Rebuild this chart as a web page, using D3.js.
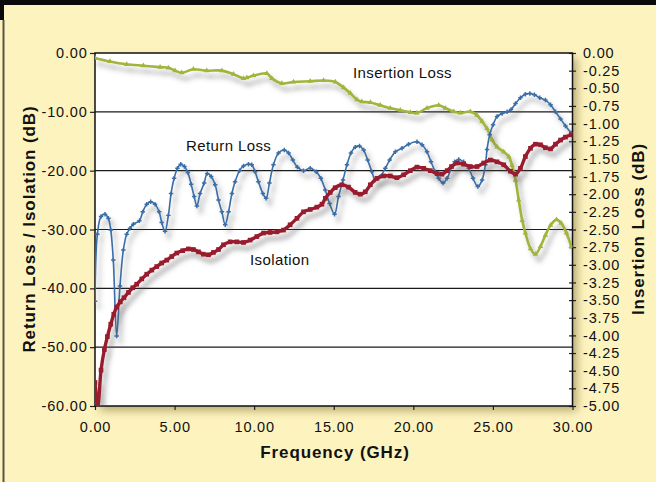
<!DOCTYPE html>
<html>
<head>
<meta charset="utf-8">
<script src="https://cdn.jsdelivr.net/npm/d3@7"></script>
<style>
  body { margin: 0; background: #fdf3bf; }
  text { font-family: "Liberation Sans", Arial, Helvetica, sans-serif; fill: #111; }
</style>
</head>
<body>
<div id="chart"></div>
<script>
// frequency ticks (GHz) and both dB scales
var xTicks = [0, 5, 10, 15, 20, 25, 30];
var yTicks = [0, -10, -20, -30, -40, -50, -60];
var y2Ticks = [0, -0.25, -0.5, -0.75, -1, -1.25, -1.5, -1.75, -2, -2.25, -2.5,
  -2.75, -3, -3.25, -3.5, -3.75, -4, -4.25, -4.5, -4.75, -5];

// [GHz, dB]
var returnLoss = [
  [0, -42.2], [0.15, -30.8], [0.38, -27.8], [0.63, -27.4], [0.84, -28.1], [0.99, -30.1],
  [1.15, -35.2], [1.36, -48.1], [1.57, -39.6], [1.78, -33.5], [1.99, -30.8], [2.2, -29.8],
  [2.41, -29.1], [2.79, -28.5], [3.0, -27.0], [3.25, -25.7], [3.5, -25.3], [3.77, -25.7],
  [4.03, -27.0], [4.19, -28.8], [4.4, -30.3], [4.61, -27.6], [4.78, -23.9], [4.97, -21.3],
  [5.18, -19.6], [5.39, -18.9], [5.62, -19.3], [5.83, -20.3], [6.04, -22.3], [6.23, -24.4],
  [6.4, -26.0], [6.6, -23.9], [6.86, -22.1], [7.05, -20.5], [7.3, -21.0], [7.55, -22.4],
  [7.76, -25.0], [7.97, -27.0], [8.18, -29.2], [8.39, -27.0], [8.6, -23.9], [8.8, -21.9],
  [9.08, -20.0], [9.33, -19.2], [9.64, -18.9], [9.85, -19.0], [10.06, -20.2], [10.27, -21.9],
  [10.55, -23.9], [10.75, -24.7], [10.96, -22.1], [11.21, -19.0], [11.53, -17.0], [11.89, -16.5],
  [12.16, -17.0], [12.43, -18.2], [12.72, -19.4], [13.1, -20.0], [13.52, -19.6], [13.9, -20.2],
  [14.19, -21.3], [14.47, -23.3], [14.74, -25.6], [15.05, -27.4], [15.3, -24.4], [15.58, -21.6],
  [15.83, -19.0], [16.08, -17.0], [16.35, -16.0], [16.62, -15.8], [16.88, -16.5], [17.13, -18.2],
  [17.4, -20.2], [17.61, -21.6], [17.92, -21.0], [18.24, -19.6], [18.51, -18.2], [18.87, -16.8],
  [19.29, -16.2], [19.7, -15.5], [20.23, -15.1], [20.55, -15.6], [20.86, -16.8], [21.11, -18.5],
  [21.38, -20.2], [21.59, -21.3], [21.87, -22.1], [22.12, -21.3], [22.43, -19.3], [22.6, -18.5],
  [22.85, -18.1], [23.16, -18.5], [23.48, -19.6], [23.75, -21.3], [24.05, -22.7], [24.32, -21.6],
  [24.53, -19.0], [24.63, -16.4], [24.8, -13.9], [25.01, -12.2], [25.26, -10.8], [25.58, -10.3],
  [25.89, -10.0], [26.14, -9.6], [26.42, -8.6], [26.73, -7.6], [27.04, -7.0], [27.32, -6.9],
  [27.61, -7.1], [27.94, -7.6], [28.3, -8.0], [28.62, -8.8], [28.93, -10.0], [29.25, -11.2],
  [29.56, -12.4], [29.92, -13.6]
];

var isolation = [
  [0, -56.0], [0.17, -60.2], [0.38, -53.9], [0.59, -50.4], [0.78, -48.2], [0.99, -46.1],
  [1.18, -44.4], [1.36, -43.2], [1.59, -42.3], [1.82, -41.6], [2.1, -40.7], [2.37, -39.9],
  [2.62, -39.3], [2.94, -38.4], [3.25, -37.6], [3.57, -36.9], [3.88, -36.3], [4.19, -35.7],
  [4.51, -35.2], [4.82, -34.6], [5.14, -34.0], [5.51, -33.6], [5.87, -33.3], [6.18, -33.4],
  [6.5, -33.8], [6.81, -34.2], [7.13, -34.3], [7.44, -33.9], [7.76, -33.4], [8.07, -32.6],
  [8.49, -32.1], [8.91, -32.1], [9.33, -32.2], [9.75, -31.8], [10.17, -31.2], [10.59, -30.6],
  [11.0, -30.5], [11.43, -30.4], [11.84, -30.1], [12.26, -29.2], [12.69, -28.1], [13.1, -27.0],
  [13.52, -26.6], [13.94, -26.2], [14.26, -25.7], [14.47, -24.7], [14.78, -23.7], [15.09, -22.9],
  [15.51, -22.4], [15.93, -22.8], [16.35, -23.7], [16.67, -24.0], [16.98, -23.6], [17.3, -22.4],
  [17.72, -21.3], [18.13, -20.9], [18.55, -20.9], [18.97, -21.2], [19.39, -20.7], [19.81, -20.0],
  [20.23, -19.4], [20.65, -19.6], [21.07, -20.0], [21.49, -20.5], [21.8, -20.6], [22.12, -20.0],
  [22.4, -19.3], [22.75, -18.7], [23.16, -18.9], [23.58, -19.3], [24.0, -19.3], [24.42, -18.7],
  [24.84, -18.2], [25.26, -18.5], [25.68, -19.0], [26.1, -20.1], [26.42, -20.6], [26.73, -19.6],
  [27.04, -17.6], [27.36, -16.2], [27.67, -15.5], [27.99, -15.6], [28.3, -16.1], [28.62, -16.3],
  [28.93, -15.5], [29.25, -14.8], [29.56, -14.3], [29.92, -13.9]
];

// right axis
var insertionLoss = [
  [0, -0.07], [0.94, -0.12], [1.99, -0.16], [3.04, -0.18], [4.09, -0.2], [4.61, -0.21],
  [5.03, -0.25], [5.45, -0.28], [6.18, -0.23], [7.02, -0.25], [7.97, -0.25], [8.7, -0.3],
  [9.33, -0.36], [9.54, -0.35], [9.96, -0.32], [10.8, -0.29], [11.11, -0.36], [11.74, -0.43],
  [12.47, -0.41], [13.52, -0.4], [14.36, -0.39], [15.1, -0.41], [15.62, -0.49], [16.04, -0.57],
  [16.46, -0.66], [16.77, -0.69], [17.3, -0.7], [17.92, -0.74], [18.55, -0.78], [19.18, -0.81],
  [19.81, -0.84], [20.23, -0.85], [20.86, -0.78], [21.59, -0.74], [22.01, -0.78], [22.54, -0.83],
  [22.96, -0.85], [23.58, -0.83], [24.0, -0.88], [24.32, -0.97], [24.63, -1.07], [24.95, -1.23],
  [25.26, -1.33], [25.68, -1.4], [26.0, -1.47], [26.2, -1.59], [26.42, -1.8], [26.62, -2.08],
  [26.84, -2.37], [27.04, -2.55], [27.36, -2.77], [27.67, -2.85], [27.99, -2.74], [28.3, -2.58],
  [28.62, -2.44], [28.99, -2.36], [29.29, -2.41], [29.62, -2.55], [29.92, -2.74]
];

var W = 656, H = 482;
var plotLeft = 95, plotRight = 572.5, plotTop = 53, plotBottom = 406;

var svg = d3.select("#chart")
  .append("svg")
  .attr("width", W)
  .attr("height", H);

var defs = svg.append("defs");

defs.append("filter")
    .attr("id", "boxShadow")
    .attr("x", "-10%").attr("y", "-10%")
    .attr("width", "130%").attr("height", "130%")
  .append("feDropShadow")
    .attr("dx", 5).attr("dy", 5)
    .attr("stdDeviation", 4)
    .attr("flood-color", "#6b5a20")
    .attr("flood-opacity", 0.45);

defs.append("filter")
    .attr("id", "lineShadow")
    .attr("x", "-10%").attr("y", "-10%")
    .attr("width", "130%").attr("height", "130%")
  .append("feDropShadow")
    .attr("dx", 4).attr("dy", 6)
    .attr("stdDeviation", 2.5)
    .attr("flood-color", "#555")
    .attr("flood-opacity", 0.45);

defs.append("clipPath")
    .attr("id", "plotClip")
  .append("rect")
    .attr("x", plotLeft)
    .attr("y", plotTop)
    .attr("width", plotRight - plotLeft)
    .attr("height", plotBottom - plotTop);

// page frame
svg.append("rect")
  .attr("width", W).attr("height", H)
  .attr("fill", "#fdf3bf");
svg.append("rect")
  .attr("width", W).attr("height", 5)
  .attr("fill", "#0a0a0a");
svg.append("rect")
  .attr("width", 4).attr("height", 20)
  .attr("fill", "#0a0a0a");
svg.append("line")
  .attr("x1", 3.5).attr("x2", 3.5)
  .attr("y1", 20).attr("y2", H)
  .attr("stroke", "#5a5544")
  .attr("stroke-width", 2);

var xScale = d3.scaleLinear().domain([0, 30]).range([plotLeft, plotRight]);
var yScale = d3.scaleLinear().domain([-60, 0]).range([plotBottom, plotTop]);
var y2Scale = d3.scaleLinear().domain([-5, 0]).range([plotBottom, plotTop]);

var fmt = function(d) { return d.toFixed(2); };

// plot box
svg.append("rect")
  .attr("x", plotLeft).attr("y", plotTop)
  .attr("width", plotRight - plotLeft)
  .attr("height", plotBottom - plotTop)
  .attr("fill", "white")
  .attr("filter", "url(#boxShadow)");

svg.append("g")
  .selectAll("line")
  .data(yTicks.slice(1, -1))
  .enter()
  .append("line")
    .attr("x1", plotLeft).attr("x2", plotRight)
    .attr("y1", function(d) { return yScale(d); })
    .attr("y2", function(d) { return yScale(d); })
    .attr("stroke", "#1a1a1a")
    .attr("stroke-width", 1.2);

// axes
var yAxis = svg.append("g")
  .attr("transform", "translate(" + plotLeft + ",0)")
  .call(d3.axisLeft(yScale).tickValues(yTicks).tickFormat(fmt)
    .tickSize(5).tickSizeOuter(0).tickPadding(2.5));

var y2Axis = svg.append("g")
  .attr("transform", "translate(" + plotRight + ",0)")
  .call(d3.axisRight(y2Scale).tickValues(y2Ticks).tickFormat(fmt)
    .tickSize(3.5).tickSizeOuter(0).tickPadding(7));
y2Axis.selectAll(".tick line").attr("x1", -3.5);

var xAxis = svg.append("g")
  .attr("transform", "translate(0," + plotBottom + ")")
  .call(d3.axisBottom(xScale).tickValues(xTicks).tickFormat(fmt)
    .tickSize(4).tickSizeOuter(0).tickPadding(11.5));

svg.selectAll(".domain").remove();
svg.selectAll(".tick line").attr("stroke", "#222").attr("stroke-width", 1.2);
svg.selectAll(".tick text")
  .attr("fill", "#111")
  .style("font-size", "14.5px")
  .style("letter-spacing", "0.8px")
  .style("font-family", "'Liberation Sans', Arial, sans-serif");

svg.append("rect")
  .attr("x", plotLeft).attr("y", plotTop)
  .attr("width", plotRight - plotLeft)
  .attr("height", plotBottom - plotTop)
  .attr("fill", "none")
  .attr("stroke", "#111")
  .attr("stroke-width", 1.5);

// series
var series = [
  { name: "insertion", data: insertionLoss, scale: y2Scale, color: "#a2b43a", width: 2.6,
    symbol: d3.symbolTriangle, size: 13 },
  { name: "return", data: returnLoss, scale: yScale, color: "#3a6ea6", width: 1.6,
    symbol: d3.symbolCross, size: 11 },
  { name: "isolation", data: isolation, scale: yScale, color: "#981c2f", width: 3.4,
    symbol: d3.symbolSquare, size: 22 }
];

var plot = svg.append("g")
  .attr("clip-path", "url(#plotClip)");

series.forEach(function(s) {
  var g = plot.append("g")
    .attr("class", s.name)
    .attr("filter", "url(#lineShadow)");

  var line = d3.line()
    .x(function(d) { return xScale(d[0]); })
    .y(function(d) { return s.scale(d[1]); })
    .curve(d3.curveCatmullRom.alpha(0.5));

  g.append("path")
    .datum(s.data)
    .attr("d", line)
    .attr("fill", "none")
    .attr("stroke", s.color)
    .attr("stroke-width", s.width);

  g.selectAll("path.pt")
    .data(s.data)
    .enter()
    .append("path")
      .attr("class", "pt")
      .attr("transform", function(d) {
        return "translate(" + xScale(d[0]) + "," + s.scale(d[1]) + ")";
      })
      .attr("d", d3.symbol().type(s.symbol).size(s.size))
      .attr("fill", s.color);
});

// series labels
svg.append("text")
  .attr("x", 353).attr("y", 78)
  .style("font-size", "15px").style("letter-spacing", "0.4px")
  .text("Insertion Loss");
svg.append("text")
  .attr("x", 186).attr("y", 150.5)
  .style("font-size", "15px").style("letter-spacing", "0.4px")
  .text("Return Loss");
svg.append("text")
  .attr("x", 250).attr("y", 265)
  .style("font-size", "15px").style("letter-spacing", "0.4px")
  .text("Isolation");

// axis titles
svg.append("text")
  .attr("x", 335).attr("y", 458)
  .attr("text-anchor", "middle")
  .style("font-size", "17px").style("font-weight", "bold").style("letter-spacing", "0.9px")
  .text("Frequency (GHz)");
svg.append("text")
  .attr("transform", "translate(35,229) rotate(-90)")
  .attr("text-anchor", "middle")
  .style("font-size", "17px").style("font-weight", "bold").style("letter-spacing", "0.9px")
  .text("Return Loss / Isolation (dB)");
svg.append("text")
  .attr("transform", "translate(644,229) rotate(-90)")
  .attr("text-anchor", "middle")
  .style("font-size", "17px").style("font-weight", "bold").style("letter-spacing", "0.9px")
  .text("Insertion Loss (dB)");
</script>
</body>
</html>
